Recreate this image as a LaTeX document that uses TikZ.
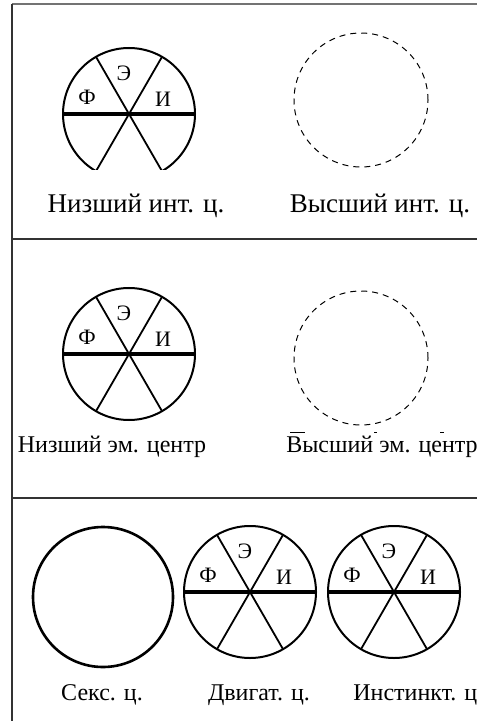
\documentclass[tikz,border=0pt]{standalone}
\usepackage{fontspec}
\setmainfont{Liberation Serif}
\usepackage{tikz}
\usetikzlibrary{positioning}

\tikzset{
    sixpart/.pic={
        \draw[line width=1pt] (0,0) circle[radius=66];
        \draw[line width=0.9pt] (120:66) -- (-60:66);
        \draw[line width=0.9pt] (60:66) -- (-120:66);
        \draw[line width=2pt] (180:66) -- (0:66);
        \node[font=\fontsize{11}{13}\selectfont] (-e) at (-5,-41) {Э};
        \node[font=\fontsize{11}{13}\selectfont] (-f) at (-42,-17) {Ф};
        \node[font=\fontsize{11}{13}\selectfont] (-i) at (34,-15) {И};
    }
}

\begin{document}
\begin{tikzpicture}[
    x=0.5pt, y=-0.5pt,
    frame/.style={line width=0.7pt, black!80},
    higher/.style={circle, draw, dashed, dash pattern=on 3pt off 2.5pt, line width=0.5pt, minimum size=67pt, inner sep=0pt},
    plain/.style={circle, draw, line width=1.3pt, minimum size=70pt, inner sep=0pt},
    caption/.style={font=\fontsize{12}{14}\selectfont, inner sep=0pt, anchor=base},
    bigcaption/.style={caption, font=\fontsize{13.5}{16}\selectfont}
]
\useasboundingbox (0,0) rectangle (477,721);

% Frame
\coordinate (topl) at (12,4);
\coordinate (topr) at (477,4);
\coordinate (botl) at (12,721);
\draw[line width=1pt, black!55] (topl) -- (topr);
\draw[frame] (topl) -- (botl);
\coordinate (rowa) at (12,239);
\coordinate (rowb) at (12,498);
\draw[frame] (rowa) -- (rowa -| topr);
\draw[frame] (rowb) -- (rowb -| topr);

% Intellectual centres
\begin{scope}
    \clip (0,0) rectangle (477,170);
    \pic (lowint) at (129,114) {sixpart};
\end{scope}
\node[higher] (highint) at (361,100) {};
\node[bigcaption] (lowintlbl) at (136,213) {Низший инт. ц.};
\node[bigcaption] (highintlbl) at (380,213) {Высший инт. ц.};

% Emotional centres
\pic (lowem) at (129,354) {sixpart};
\node[higher] (highem) at (361,358) {};
\draw[line width=0.5pt] (290,432) -- (305,432);
\draw[line width=0.5pt] (374,432) -- (377,432);
\draw[line width=0.5pt] (440,432) -- (444,432);
\node[caption] (lowemlbl) at (112,452) {Низший эм. центр};
\node[caption] (highemlbl) at (382,452) {Высший эм. центр};

% Lower centres
\node[plain] (sex) at (103,597) {};
\pic (motor) at (250,592) {sixpart};
\pic (instinct) at (394,592) {sixpart};
\node[caption] (sexlbl) at (102,700) {Секс. ц.};
\node[caption] (motorlbl) at (259,700) {Двигат. ц.};
\node[caption, anchor=base west] (instinctlbl) at (353,700) {Инстинкт. ц};

\end{tikzpicture}
\end{document}
